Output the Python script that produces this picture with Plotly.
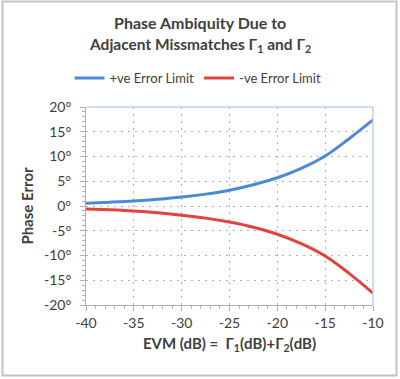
import plotly.graph_objects as go

evm_db = [-40, -37.5, -35, -32.5, -30, -27.5, -25, -22.5, -20, -17.5, -15, -12.5, -10]
pos_err = [0.57, 0.76, 1.0, 1.35, 1.8, 2.4, 3.2, 4.3, 5.7, 7.6, 10.1, 13.6, 17.4]
neg_err = [-0.6, -0.78, -1.02, -1.38, -1.85, -2.45, -3.25, -4.3, -5.7, -7.6, -10.1, -13.6, -17.6]

x_ticks = [-40, -35, -30, -25, -20, -15, -10]
y_ticks = [-20, -15, -10, -5, 0, 5, 10, 15, 20]
y_tick_labels = [f"{v}°" for v in y_ticks]

title_lines = ["Phase Ambiquity Due to", "Adjacent Missmatches Γ<sub>1</sub> and Γ<sub>2</sub>"]

W, H = 400, 379
L, R, T, B = 86, 27, 107, 74
pw, ph = W - L - R, H - T - B

def px_x(p):
    return (p - L) / pw

def px_y(p):
    return (H - B - p) / ph

FONT = "Lato"
TXT = "#404040"

fig = go.Figure()
fig.add_trace(go.Scatter(x=evm_db, y=pos_err, mode="lines", name="+ve Error Limit",
                         line=dict(color="#4a8ad8", width=3, shape="spline")))
fig.add_trace(go.Scatter(x=evm_db, y=neg_err, mode="lines", name="-ve Error Limit",
                         line=dict(color="#e0443c", width=3, shape="spline")))

fig.update_layout(
    width=W, height=H,
    margin=dict(l=L, r=R, t=T, b=B, autoexpand=False),
    paper_bgcolor="white", plot_bgcolor="white",
    font=dict(family=FONT, color=TXT),
    legend=dict(orientation="h", x=px_x(198), xanchor="center", y=px_y(78), yanchor="middle",
                font=dict(size=13, color=TXT), itemwidth=30, tracegroupgap=0,
                bgcolor="rgba(0,0,0,0)"),
    showlegend=True,
)

for line_text, ypix, fsize in zip(title_lines, [22, 45], [16, 15.5]):
    fig.add_annotation(text=f"<b>{line_text}</b>", xref="paper", yref="paper",
                       x=px_x(200), y=px_y(ypix), xanchor="center", yanchor="middle",
                       showarrow=False, font=dict(size=fsize, color=TXT, family=FONT))

fig.update_xaxes(range=[-40, -10], tickvals=x_ticks, ticktext=[str(v) for v in x_ticks],
                 showline=True, linecolor="#b0b0b0", linewidth=1,
                 showgrid=True, gridcolor="#b0b0b0", griddash="2px,5px", gridwidth=1,
                 ticks="outside", ticklen=5, tickcolor="#b0b0b0",
                 minor=dict(dtick=1, ticks="outside", ticklen=3, tickcolor="#b0b0b0", showgrid=False),
                 tickfont=dict(size=14, color=TXT), automargin=False,
                 title=dict(text="<b>EVM (dB) =  Γ<sub>1</sub>(dB)+Γ<sub>2</sub>(dB)</b>", font=dict(size=15, color=TXT),
                            standoff=8),
                 zeroline=False, fixedrange=True)
fig.update_yaxes(range=[-20, 20], tickvals=y_ticks, ticktext=y_tick_labels,
                 showline=True, linecolor="#b0b0b0", linewidth=1,
                 showgrid=True, gridcolor="#b0b0b0", griddash="2px,5px", gridwidth=1,
                 ticks="outside", ticklen=5, tickcolor="#b0b0b0",
                 minor=dict(dtick=1, ticks="outside", ticklen=3, tickcolor="#b0b0b0", showgrid=False),
                 tickfont=dict(size=14, color=TXT), automargin=False, ticklabelstandoff=6,
                 title=dict(text="<b>Phase Error</b>", font=dict(size=15, color=TXT), standoff=6),
                 zeroline=False, fixedrange=True)

# plot frame top/right in light blue
fig.add_shape(type="line", xref="x domain", yref="y domain", x0=0, x1=1, y0=1, y1=1,
              line=dict(color="#b9d3f0", width=1.5))
fig.add_shape(type="line", xref="x domain", yref="y domain", x0=1, x1=1, y0=0, y1=1,
              line=dict(color="#b9d3f0", width=1.5))
# outer border
fig.add_shape(type="rect", xref="paper", yref="paper",
              x0=px_x(2.5), x1=px_x(396.5), y0=px_y(375.5), y1=px_y(1.5),
              line=dict(color="#c4c4c4", width=2), layer="below")

fig.write_html("out.html", config=dict(displayModeBar=False, staticPlot=True),
               post_script="document.body.style.margin='0';document.body.style.overflow='hidden';")
